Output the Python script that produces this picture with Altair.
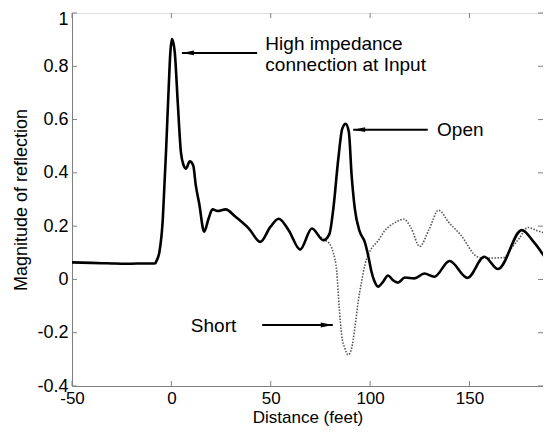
import altair as alt
import pandas as pd

# ---- data ----
open_x = [-50, -45, -40, -35, -30, -25, -20, -15, -10, -8, -7.7, -6, -4.3, -3.5, -2.7, -1.3, -0.5, 0.3,
          1.7, 3.2, 4.8, 6.2, 7.3, 9.3, 11, 12.3, 14, 16.5, 18.7, 20.7, 23.2, 27.3, 32.3, 39, 44.8,
          49.8, 54, 59, 64.8, 70.7, 76.5, 79.5, 81.5, 84, 86, 87.7, 89.3, 90.7, 92.3, 94.8, 97.3,
          99, 100.7, 102.3, 104, 106.5, 109, 111.5, 114, 117.5, 122.3, 127.3, 132.3, 140, 149,
          157.5, 164.4, 176.3, 182.3, 189]
open_y = [0.064, 0.063, 0.062, 0.061, 0.060, 0.059, 0.059, 0.060, 0.060, 0.061, 0.066, 0.104, 0.228,
          0.353, 0.478, 0.728, 0.853, 0.903, 0.853, 0.666, 0.478, 0.428, 0.416, 0.443, 0.428, 0.353,
          0.285, 0.179, 0.228, 0.263, 0.257, 0.263, 0.235, 0.191, 0.141, 0.197, 0.228, 0.185, 0.112,
          0.191, 0.147, 0.17, 0.266, 0.453, 0.566, 0.584, 0.553, 0.391, 0.266, 0.179, 0.141, 0.091,
          0.029, -0.009, -0.027, -0.009, 0.015, -0.003, -0.012, 0.007, 0.004, 0.022, 0.010, 0.069,
          0.006, 0.085, 0.039, 0.185, 0.141, 0.072]

short_x = [74, 77.3, 79.5, 81.5, 83.2, 84.5, 85.7, 87.3, 89, 90.7, 92.3, 94, 95.7, 97.5, 100.7, 104,
           107.3, 113.2, 117, 120.5, 125, 129.5, 134.5, 139.5, 145.7, 154, 158, 167.3, 171, 175,
           179.5, 184, 189]
short_y = [0.166, 0.147, 0.135, 0.10, 0.03, -0.109, -0.209, -0.258, -0.283, -0.258, -0.184, -0.084,
           -0.009, 0.058, 0.116, 0.145, 0.182, 0.216, 0.226, 0.195, 0.124, 0.185, 0.260, 0.215, 0.166,
           0.085, 0.080, 0.082, 0.116, 0.154, 0.195, 0.183, 0.172]

x_ticks = [-50, 0, 50, 100, 150]
y_ticks = [-0.4, -0.2, 0, 0.2, 0.4, 0.6, 0.8, 1]

notes_text = ["High impedance", "connection at Input", "Open", "Short"]
notes_x = [47.3, 47.3, 133.7, 9.8]
notes_y = [0.8625, 0.784, 0.538, -0.196]

arrow_from_x = [43.2, 129, 45.7]
arrow_to_x = [5.3, 91.5, 81.2]
arrow_y = [0.850, 0.562, -0.171]
arrow_dir = ["left", "left", "right"]

# ---- chart ----
W, H = 471, 373
FONT = "Liberation Sans"
GRAY = "#808080"
XD = [-50, 187]
YD = [-0.4, 1]

xs = alt.Scale(domain=XD, nice=False, zero=False)
ys = alt.Scale(domain=YD, nice=False, zero=False)

open_df = pd.DataFrame({"x": open_x, "y": open_y})
short_df = pd.DataFrame({"x": short_x, "y": short_y})

short_line = alt.Chart(short_df).mark_line(
    color="#555555", strokeWidth=1.6, strokeDash=[1.5, 1.5], interpolate="monotone", clip=True
).encode(
    x=alt.X("x:Q", scale=xs, title="Distance (feet)",
            axis=alt.Axis(values=x_ticks, tickSize=0, labelExpr="'' + datum.value",
                          domainColor=GRAY, labelFontSize=17, titleFontSize=17,
                          labelFont=FONT, titleFont=FONT, labelColor="#000", titleColor="#000",
                          titleFontWeight="normal", labelPadding=4, grid=False,
                          labelFlush=False, titleBaseline="alphabetic", titleY=36)),
    y=alt.Y("y:Q", scale=ys, title="Magnitude of reflection",
            axis=alt.Axis(values=y_ticks, tickSize=0,
                          labelExpr="'' + round(datum.value*10)/10",
                          labelOffset={"condition": {"test": "datum.value == 1", "value": 6}, "value": 0},
                          domainColor=GRAY, labelFontSize=18, titleFontSize=18,
                          labelFont=FONT, titleFont=FONT, labelColor="#000", titleColor="#000",
                          titleFontWeight="normal", labelPadding=4, titlePadding=6, grid=False,
                          labelFlush=False)),
)

open_line = alt.Chart(open_df).mark_line(
    color="#000000", strokeWidth=2.6, interpolate="monotone", clip=True
).encode(x=alt.X("x:Q", scale=xs), y=alt.Y("y:Q", scale=ys))

# inward ticks
xt = pd.DataFrame({"v": x_ticks})
yt = pd.DataFrame({"v": y_ticks})
tick_style = dict(color=GRAY, strokeWidth=1)
xb = alt.Chart(xt).mark_rule(**tick_style).encode(x=alt.X("v:Q", scale=xs), y=alt.value(H), y2=alt.value(H - 5))
xtp = alt.Chart(xt).mark_rule(**tick_style).encode(x=alt.X("v:Q", scale=xs), y=alt.value(0), y2=alt.value(5))
yl = alt.Chart(yt).mark_rule(**tick_style).encode(y=alt.Y("v:Q", scale=ys), x=alt.value(0), x2=alt.value(5))
yr = alt.Chart(yt).mark_rule(**tick_style).encode(y=alt.Y("v:Q", scale=ys), x=alt.value(W), x2=alt.value(W - 5))

# annotations
notes_df = pd.DataFrame({"t": notes_text, "x": notes_x, "y": notes_y})
notes = alt.Chart(notes_df).mark_text(
    align="left", baseline="alphabetic", font=FONT, fontSize=19, color="#000"
).encode(x=alt.X("x:Q", scale=xs), y=alt.Y("y:Q", scale=ys), text="t:N")

arr_df = pd.DataFrame({"x1": arrow_from_x, "x2": arrow_to_x, "y": arrow_y, "d": arrow_dir})
shafts = alt.Chart(arr_df).mark_rule(color="#000", strokeWidth=2).encode(
    x=alt.X("x1:Q", scale=xs), x2="x2:Q", y=alt.Y("y:Q", scale=ys))
head_left = alt.Chart(arr_df).transform_filter("datum.d == 'left'").mark_point(
    shape="M-1,0L1,-0.4L1,0.4Z", filled=True, size=144, color="#000", opacity=1, xOffset=6
).encode(x=alt.X("x2:Q", scale=xs), y=alt.Y("y:Q", scale=ys))
head_right = alt.Chart(arr_df).transform_filter("datum.d == 'right'").mark_point(
    shape="M1,0L-1,-0.4L-1,0.4Z", filled=True, size=144, color="#000", opacity=1, xOffset=-6
).encode(x=alt.X("x2:Q", scale=xs), y=alt.Y("y:Q", scale=ys))

chart = alt.layer(
    short_line, open_line, xb, xtp, yl, yr, shafts, head_left, head_right, notes
).properties(
    width=W, height=H,
    autosize=alt.AutoSizeParams(type="none"),
    padding={"left": 64, "top": 5, "right": 0, "bottom": 40},
).configure_view(
    stroke=GRAY, strokeWidth=1
).configure(background="white")

chart.save("out.html", embed_options={"renderer": "svg", "actions": False})
